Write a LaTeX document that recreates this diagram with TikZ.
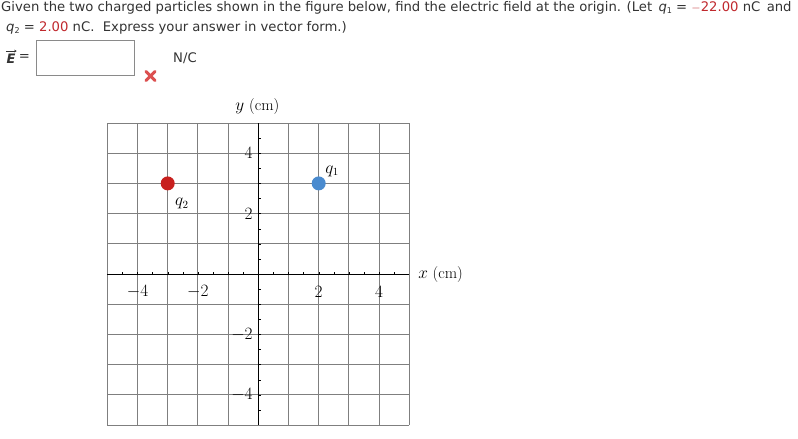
\documentclass[tikz,border=0pt]{standalone}
\usepackage{fontspec}
\usetikzlibrary{arrows.meta}
\newfontfamily\webfont{DejaVu Sans}
\definecolor{txt}{HTML}{333333}
\definecolor{ans}{HTML}{C0282D}
\definecolor{gridc}{HTML}{7F7F7F}
\definecolor{qred}{HTML}{C8201E}
\definecolor{qblue}{HTML}{4A8BCF}
\definecolor{xred}{HTML}{DC5050}
\definecolor{boxc}{HTML}{8A8A8A}
\newcommand{\qq}[1]{\textit{q}\raisebox{-0.3ex}{\footnotesize #1}}
\begin{document}
\begin{tikzpicture}[x=1pt,y=-1pt,
  webtext/.style={font=\webfont\fontsize{13.2}{16}\selectfont, text=txt, inner sep=0pt},
  figtext/.style={font=\fontsize{16}{19}\selectfont, inner sep=0pt},
  charge/.style={circle, minimum size=14pt, inner sep=0pt},
  gridline/.style={draw=gridc, line width=0.9pt},
  axisline/.style={draw=black, line width=0.9pt}]
\useasboundingbox (0,0) rectangle (798,439);
\fill[white] (0,0) rectangle (798,439);
% question text
\node[webtext, anchor=base west] (l1) at (1,11) {Given the two charged particles shown in the figure below, find the electric field at the origin. (Let\, \qq{1} = \textcolor{ans}{$-$22.00} nC\, and};
\node[webtext, anchor=base west] (l2) at (6,31) {\qq{2} = \textcolor{ans}{2.00} nC.\ \ Express your answer in vector form.)};
% answer row
\node[webtext, font=\webfont\bfseries\itshape\fontsize{13}{15}\selectfont, anchor=center] (E) at (11,59) {E};
\draw[txt, line width=0.6pt, -{Stealth[length=2.4pt,width=2.8pt]}] ([xshift=-0.5pt,yshift=3pt]E.north west) -- ([xshift=1pt,yshift=3pt]E.north east);
\node[webtext, anchor=center] (eq) at (24.5,58) {=};
\node[draw=boxc, line width=0.8pt, minimum width=98.6pt, minimum height=35pt, inner sep=0pt, anchor=north west] (box) at (35.7,40) {};
\node[webtext, anchor=center] (unit) at (185,58) {N/C};
\coordinate (xc) at (150.5,76);
\draw[xred, line width=3pt, line cap=round] ([shift={(-4.5,-4.5)}]xc) -- ([shift={(4.5,4.5)}]xc);
\draw[xred, line width=3pt, line cap=round] ([shift={(-4.5,4.5)}]xc) -- ([shift={(4.5,-4.5)}]xc);
% graph
\begin{scope}[x=30.2pt, y=30.2pt, shift={(258.3pt,-274pt)}]
  \foreach \i in {-5,...,5} {
    \draw[gridline] (\i,-5) -- (\i,5);
    \draw[gridline] (-5,\i) -- (5,\i);
  }
  \draw[axisline] (-5,0) -- (5,0);
  \draw[axisline] (0,-5) -- (0,5);
  \foreach \i in {-4.5,-4,...,4.5} {
    \draw[black, line width=0.4pt] (\i,0) -- ++(0,2.5pt);
    \draw[black, line width=0.4pt] (0,\i) -- ++(2.5pt,0);
  }
  \foreach \v in {-4,-2,2,4} {
    \node[figtext, anchor=center] at (\v,-0.58) {$\v$};
    \node[figtext, anchor=east] at (-0.18,\v) {$\v$};
  }
  \node[figtext, anchor=center] (ylab) at (-0.03,5.55) {$y$ (cm)};
  \node[figtext, anchor=west] (xlab) at (5.29,-0.03) {$x$ (cm)};
  \node[charge, fill=qblue] (q1) at (2,3) {};
  \node[charge, fill=qred] (q2) at (-3,3) {};
  \node[figtext, anchor=center] (q1l) at (2.44,3.4) {$q_1$};
  \node[figtext, anchor=center] (q2l) at (-2.53,2.33) {$q_2$};
\end{scope}
\end{tikzpicture}
\end{document}
